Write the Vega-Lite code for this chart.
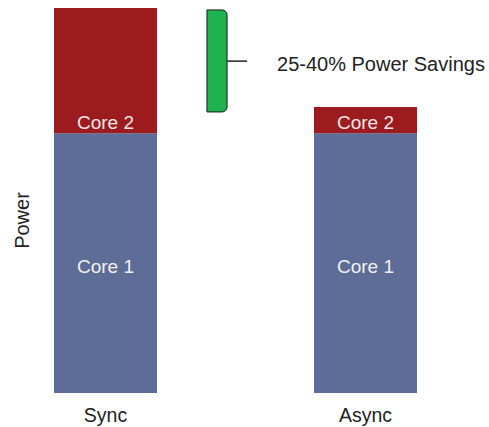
{
  "$schema": "https://vega.github.io/schema/vega-lite/v6.json",
  "width": 471,
  "height": 393,
  "autosize": {"type": "none"},
  "padding": {"left": 0, "top": 0, "right": 18, "bottom": 34},
  "background": "white",
  "config": {"view": {"stroke": null}, "font": "Liberation Sans"},
  "data": {"values": [
    {"group": "Sync", "core": "Core 1", "power": 67.5},
    {"group": "Sync", "core": "Core 2", "power": 32.5},
    {"group": "Async", "core": "Core 1", "power": 67.5},
    {"group": "Async", "core": "Core 2", "power": 6.8}
  ]},
  "layer": [
    {
      "mark": {"type": "bar"},
      "encoding": {
        "x": {"field": "group", "type": "nominal", "sort": ["Sync", "Async"],
          "scale": {"type": "band", "domain": ["Sync", "Async"], "paddingInner": 0.6038, "paddingOuter": 0.2077},
          "axis": {"title": null, "domain": false, "ticks": false, "labelFontSize": 19.5, "labelColor": "#222222", "labelPadding": 13, "labelAngle": 0, "labelFont": "Liberation Sans"}},
        "y": {"field": "power", "type": "quantitative", "stack": "zero",
          "scale": {"domain": [0, 102.08], "nice": false},
          "axis": {"title": "Power", "labels": false, "ticks": false, "domain": false, "grid": false, "titleFontSize": 20, "titleFontWeight": "normal", "titleColor": "#222222", "titleFont": "Liberation Sans", "titleX": 22, "titleY": 220, "titleAngle": -90, "titleAlign": "center", "titleBaseline": "middle"}},
        "color": {"field": "core", "type": "nominal", "scale": {"domain": ["Core 1", "Core 2"], "range": ["#5d6d97", "#9b1b1f"]}, "legend": null},
        "order": {"field": "core"}
      }
    },
    {
      "transform": [{"filter": "datum.core == 'Core 1'"}],
      "mark": {"type": "text", "color": "#f4f0f2", "fontSize": 19, "baseline": "alphabetic", "dy": 10},
      "encoding": {
        "x": {"field": "group", "type": "nominal"},
        "y": {"field": "power", "type": "quantitative", "stack": "zero", "bandPosition": 0.5},
        "text": {"field": "core"}
      }
    },
    {
      "transform": [
        {"stack": "power", "groupby": ["group"], "sort": [{"field": "core", "order": "ascending"}], "as": ["p0", "p1"]},
        {"filter": "datum.core == 'Core 2'"}
      ],
      "mark": {"type": "text", "color": "#f6e6e6", "fontSize": 19, "baseline": "alphabetic", "dy": -4},
      "encoding": {
        "x": {"field": "group", "type": "nominal"},
        "y": {"field": "p0", "type": "quantitative"},
        "text": {"field": "core"}
      }
    },
    {
      "data": {"values": [{"label": "25-40% Power Savings"}]},
      "layer": [
        {
          "mark": {"type": "rect", "fill": "#1eb34f", "stroke": "#1a1a1a", "strokeWidth": 1, "cornerRadiusTopRight": 5, "cornerRadiusBottomRight": 5},
          "encoding": {
            "x": {"datum": "Sync", "bandPosition": 1.485},
            "x2": {"datum": "Sync", "bandPosition": 1.68},
            "y": {"datum": 99.5},
            "y2": {"datum": 73}
          }
        },
        {
          "mark": {"type": "rule", "stroke": "#222222", "strokeWidth": 1.5},
          "encoding": {
            "x": {"datum": "Sync", "bandPosition": 1.68},
            "x2": {"datum": "Sync", "bandPosition": 1.874},
            "y": {"datum": 86.2}
          }
        },
        {
          "mark": {"type": "text", "align": "left", "baseline": "middle", "fontSize": 20, "color": "#222222"},
          "encoding": {
            "x": {"datum": "Sync", "bandPosition": 2.165},
            "y": {"datum": 85.2},
            "text": {"field": "label"}
          }
        }
      ]
    }
  ]
}
